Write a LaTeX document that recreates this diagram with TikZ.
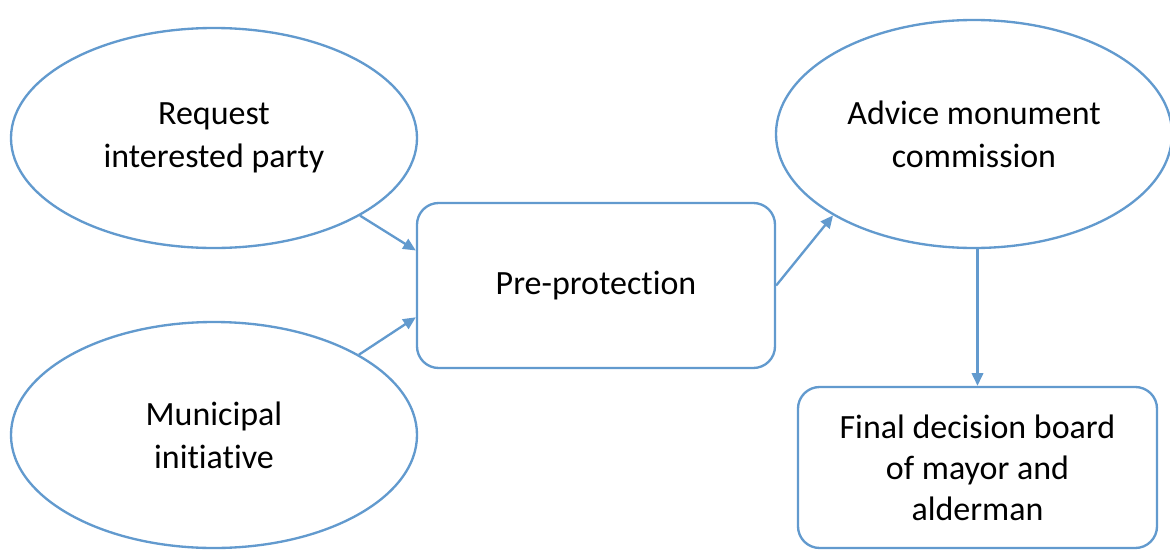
\documentclass[tikz,border=0pt]{standalone}
\usepackage{fontspec}
\setmainfont{Carlito}[Ligatures=NoCommon]
\usetikzlibrary{shapes.geometric,arrows.meta}
\definecolor{stepblue}{RGB}{98,154,206}

\begin{document}
\begin{tikzpicture}[x=0.03cm, y=-0.03cm]
\tikzstyle{myoval} = [ellipse, draw = stepblue, line width = 2pt, align = center, font = \fontsize{29}{37}\selectfont]
\tikzstyle{mybox} = [rectangle, rounded corners = 0.65cm, draw = stepblue, line width = 2pt, align = center, font = \fontsize{29}{35}\selectfont]
\tikzset{myarrow/.style={draw = stepblue, line width = 2pt, -{Triangle[length = 0.38cm, width = 0.34cm]}}}
\useasboundingbox (0,0) rectangle (1170,550);

\node [myoval, minimum width = 12.18cm, minimum height = 6.6cm] (request) at (214,138) {Request\\interested party};
\node [myoval, minimum width = 12.18cm, minimum height = 6.78cm] (municipal) at (214,435) {Municipal\\initiative};
\node [mybox, minimum width = 10.74cm, minimum height = 4.95cm] (preprot) at (596,285.5) {Pre-protection};
\node [myoval, minimum width = 11.88cm, minimum height = 6.84cm] (advice) at (974,134) {Advice monument\\commission};
\node [mybox, minimum width = 10.77cm, minimum height = 4.83cm] (final) at (977.5,467.5) {Final decision board\\of mayor and\\alderman};

\draw [myarrow] (request.-28) -- (preprot.169);
\draw [myarrow] (municipal.29) -- (preprot.190);
\draw [myarrow] (preprot.east) -- (advice.210);
\draw [myarrow] (advice.south -| final.north) -- (final.north);
\end{tikzpicture}
\end{document}
